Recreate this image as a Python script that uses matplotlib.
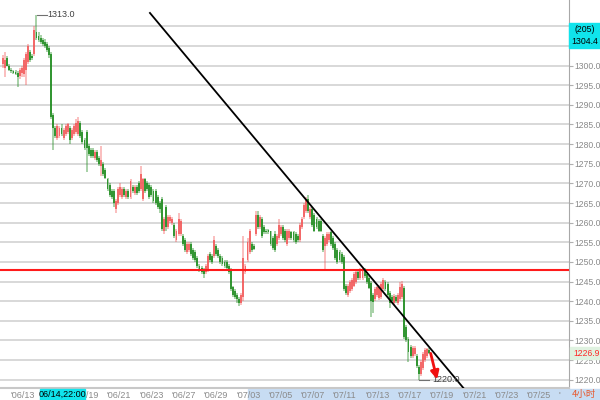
import numpy as np
import matplotlib
matplotlib.use('Agg')
import matplotlib.pyplot as plt
from matplotlib.patches import Rectangle

# 4h candles, oldest first (205 bars)
opens = [
    1300.5, 1299.5, 1302.0, 1300.0, 1299.0, 1298.6, 1298.4, 1298.0, 1297.3, 1298.0,
    1297.8, 1299.0, 1301.0, 1303.5, 1302.5, 1303.0, 1308.5, 1307.5, 1307.0, 1306.5,
    1306.0, 1305.5, 1304.5, 1303.0, 1287.5, 1284.0, 1281.5, 1282.0, 1284.0, 1281.5,
    1282.5, 1283.0, 1284.0, 1281.5, 1282.5, 1283.0, 1282.5, 1285.5, 1283.0, 1281.0,
    1283.0, 1279.5, 1278.5, 1278.5, 1276.5, 1278.0, 1276.5, 1274.5, 1275.0, 1273.5,
    1271.0, 1269.5, 1268.0, 1268.0, 1263.5, 1265.0, 1267.0, 1266.5, 1268.5, 1266.5,
    1268.0, 1266.5, 1269.0, 1267.5, 1269.0, 1270.0, 1268.5, 1266.0, 1271.0, 1270.0,
    1269.5, 1269.0, 1268.0, 1268.0, 1266.5, 1265.0, 1266.0, 1258.0, 1264.0, 1259.0,
    1260.5, 1260.0, 1259.5, 1255.5, 1257.0, 1257.0, 1256.5, 1255.5, 1252.5, 1253.0,
    1254.5, 1253.0, 1252.5, 1251.0, 1249.0, 1248.5, 1248.0, 1247.5, 1248.0, 1252.0,
    1251.5, 1251.5, 1254.0, 1253.0, 1251.5, 1251.0, 1250.0, 1250.0, 1249.0, 1248.0,
    1243.5, 1242.5, 1241.5, 1240.5, 1239.6, 1241.0, 1247.5, 1250.5, 1252.5, 1254.5,
    1254.0, 1257.0, 1262.0, 1259.0, 1261.0, 1259.0, 1258.0, 1258.2, 1257.8, 1256.0,
    1257.0, 1254.5, 1256.0, 1257.0, 1259.0, 1258.0, 1254.5, 1256.0, 1257.5, 1257.5,
    1257.0, 1256.5, 1255.5, 1259.0, 1261.5, 1263.0, 1266.0, 1261.5, 1263.5, 1262.0,
    1261.0, 1260.5, 1260.5, 1256.5, 1254.0, 1254.5, 1255.5, 1257.5, 1256.0, 1254.5,
    1253.0, 1252.5, 1252.0, 1251.3, 1244.0, 1241.5, 1242.5, 1243.0, 1244.0, 1245.0,
    1247.5, 1246.0, 1246.0, 1248.0, 1247.0, 1245.8, 1244.7, 1241.5, 1240.5, 1241.5,
    1240.9, 1241.0, 1243.0, 1245.0, 1244.5, 1242.0, 1241.0, 1239.5, 1241.0, 1239.5,
    1240.5, 1241.0, 1243.4, 1233.5, 1230.5, 1228.4, 1226.0, 1226.5, 1226.0, 1223.3,
    1221.5, 1223.0, 1225.0, 1226.0, 1227.6]
highs = [
    1302.8, 1303.5, 1302.5, 1300.3, 1299.5, 1299.0, 1298.8, 1298.5, 1299.5, 1300.0,
    1302.0, 1303.5, 1305.5, 1304.0, 1303.0, 1310.0, 1313.0, 1308.5, 1307.8, 1307.0,
    1306.8, 1306.0, 1305.0, 1303.5, 1288.0, 1284.5, 1285.0, 1284.5, 1285.0, 1284.0,
    1285.0, 1285.5, 1284.5, 1284.0, 1285.0, 1286.5, 1286.8, 1286.0, 1283.5, 1281.5,
    1283.5, 1280.0, 1279.0, 1279.0, 1278.5, 1278.5, 1277.0, 1279.5, 1275.5, 1274.0,
    1271.5, 1270.0, 1268.5, 1268.5, 1266.0, 1269.0, 1270.0, 1269.0, 1269.0, 1268.5,
    1268.5, 1271.0, 1269.5, 1269.5, 1269.5, 1270.5, 1274.5, 1271.5, 1271.5, 1270.5,
    1270.0, 1269.5, 1268.5, 1268.5, 1267.0, 1265.5, 1266.5, 1261.5, 1264.5, 1262.0,
    1262.0, 1261.5, 1260.0, 1258.5, 1262.5, 1261.0, 1257.0, 1256.0, 1255.0, 1255.0,
    1255.0, 1253.5, 1253.0, 1251.5, 1249.5, 1249.0, 1248.5, 1249.5, 1252.0, 1252.5,
    1252.0, 1256.5, 1254.5, 1253.5, 1252.0, 1251.5, 1250.5, 1250.5, 1249.5, 1248.5,
    1244.0, 1243.0, 1242.0, 1241.0, 1242.0, 1256.5, 1249.5, 1256.0, 1258.5, 1255.0,
    1254.5, 1263.0, 1263.0, 1262.0, 1261.5, 1259.5, 1258.5, 1258.5, 1258.0, 1256.5,
    1258.0, 1257.0, 1261.0, 1259.5, 1259.5, 1258.5, 1258.5, 1258.5, 1258.0, 1258.0,
    1257.5, 1257.0, 1260.0, 1261.5, 1265.0, 1266.5, 1267.0, 1264.0, 1264.0, 1262.5,
    1261.5, 1261.0, 1261.0, 1257.0, 1256.5, 1257.5, 1257.5, 1258.0, 1256.5, 1255.0,
    1253.5, 1253.0, 1252.5, 1251.8, 1244.5, 1244.5, 1245.5, 1246.0, 1247.5, 1248.0,
    1248.0, 1248.5, 1248.5, 1248.5, 1247.5, 1246.3, 1245.2, 1242.0, 1243.5, 1244.0,
    1244.2, 1245.0, 1245.8, 1245.5, 1245.0, 1242.5, 1241.5, 1241.8, 1241.5, 1242.0,
    1245.0, 1245.2, 1243.9, 1234.0, 1231.0, 1228.9, 1228.7, 1228.5, 1226.5, 1223.8,
    1225.0, 1227.0, 1228.2, 1228.0, 1228.0]
lows = [
    1299.5, 1297.0, 1299.8, 1298.5, 1298.0, 1297.8, 1297.5, 1294.5, 1296.5, 1297.0,
    1297.0, 1295.0, 1300.5, 1300.8, 1301.5, 1302.5, 1306.5, 1306.0, 1305.5, 1305.0,
    1304.5, 1303.5, 1302.0, 1286.5, 1278.5, 1281.5, 1281.0, 1281.5, 1282.0, 1281.0,
    1282.0, 1282.5, 1280.0, 1281.0, 1282.0, 1282.5, 1282.0, 1281.5, 1280.0, 1278.5,
    1273.0, 1277.0, 1276.5, 1276.5, 1276.0, 1275.5, 1274.5, 1272.0, 1272.0, 1271.0,
    1268.0, 1266.5, 1266.0, 1264.0, 1262.5, 1264.5, 1266.5, 1266.0, 1266.5, 1266.0,
    1266.0, 1266.0, 1267.5, 1267.0, 1267.0, 1267.5, 1268.0, 1265.5, 1267.5, 1268.0,
    1266.0, 1266.5, 1265.0, 1264.5, 1263.5, 1262.5, 1258.0, 1257.0, 1258.0, 1258.5,
    1260.0, 1259.5, 1256.0, 1255.0, 1256.5, 1256.5, 1254.0, 1252.5, 1252.0, 1252.5,
    1251.5, 1250.5, 1250.0, 1248.5, 1247.5, 1247.0, 1246.0, 1247.0, 1247.5, 1250.0,
    1249.5, 1251.0, 1251.5, 1251.0, 1249.5, 1249.0, 1248.5, 1248.0, 1247.0, 1242.5,
    1241.0, 1240.5, 1239.5, 1238.8, 1239.0, 1240.0, 1247.0, 1250.0, 1252.0, 1252.5,
    1253.0, 1256.5, 1258.5, 1258.5, 1256.0, 1257.0, 1257.0, 1257.0, 1254.0, 1253.0,
    1252.6, 1254.0, 1255.5, 1256.5, 1255.5, 1255.0, 1254.0, 1255.5, 1255.5, 1255.0,
    1254.5, 1255.0, 1255.0, 1258.5, 1261.0, 1262.5, 1262.5, 1261.0, 1259.0, 1257.5,
    1258.5, 1257.5, 1257.5, 1252.5, 1248.0, 1254.0, 1255.0, 1254.0, 1253.0, 1250.5,
    1249.5, 1250.0, 1249.5, 1242.5, 1241.5, 1241.0, 1242.0, 1242.5, 1243.5, 1244.5,
    1245.5, 1245.5, 1245.5, 1246.0, 1244.5, 1243.0, 1236.0, 1237.0, 1240.0, 1241.0,
    1240.4, 1240.5, 1242.5, 1242.5, 1241.0, 1238.3, 1239.5, 1239.0, 1239.5, 1239.0,
    1240.0, 1240.5, 1230.5, 1229.5, 1224.5, 1225.5, 1225.5, 1226.0, 1223.0, 1220.0,
    1221.0, 1222.5, 1224.5, 1225.5, 1226.5]
closes = [
    1302.0, 1301.5, 1300.0, 1299.0, 1298.5, 1298.0, 1297.8, 1297.2, 1299.0, 1299.5,
    1301.5, 1303.0, 1305.0, 1301.5, 1302.0, 1309.0, 1307.0, 1306.5, 1306.0, 1305.5,
    1305.0, 1304.0, 1302.8, 1287.0, 1284.0, 1282.0, 1284.5, 1284.0, 1282.5, 1283.5,
    1284.5, 1285.0, 1281.0, 1283.5, 1284.5, 1285.5, 1286.0, 1282.0, 1280.5, 1279.0,
    1279.0, 1277.5, 1277.0, 1277.0, 1278.0, 1276.0, 1275.0, 1276.0, 1272.5, 1271.5,
    1268.5, 1267.0, 1266.5, 1265.0, 1265.5, 1268.5, 1269.0, 1268.5, 1267.0, 1268.0,
    1266.5, 1270.5, 1268.0, 1269.0, 1267.5, 1268.0, 1272.5, 1271.0, 1268.0, 1268.5,
    1266.5, 1267.0, 1265.5, 1265.0, 1264.0, 1263.5, 1258.5, 1261.0, 1259.0, 1261.5,
    1261.5, 1261.0, 1256.5, 1258.0, 1261.0, 1260.5, 1254.5, 1253.0, 1254.5, 1254.5,
    1252.0, 1251.0, 1250.5, 1249.0, 1248.0, 1247.5, 1247.0, 1249.0, 1251.5, 1250.5,
    1250.0, 1255.5, 1252.0, 1251.5, 1250.0, 1249.5, 1249.0, 1248.5, 1247.5, 1243.0,
    1241.5, 1241.0, 1240.5, 1239.5, 1241.5, 1251.0, 1249.0, 1255.0, 1258.0, 1253.0,
    1253.3, 1262.0, 1259.0, 1261.5, 1256.5, 1257.5, 1257.5, 1257.5, 1254.5, 1253.5,
    1253.0, 1256.5, 1259.5, 1259.0, 1256.0, 1255.5, 1258.0, 1258.0, 1256.0, 1255.5,
    1255.0, 1255.5, 1259.5, 1261.0, 1264.5, 1266.0, 1263.0, 1263.5, 1259.5, 1258.0,
    1259.0, 1258.0, 1257.8, 1253.0, 1256.0, 1257.0, 1257.0, 1254.5, 1253.5, 1251.0,
    1250.0, 1250.5, 1250.0, 1243.0, 1242.0, 1244.0, 1245.0, 1245.5, 1247.0, 1247.5,
    1245.8, 1248.0, 1248.0, 1246.5, 1245.0, 1243.4, 1240.0, 1239.8, 1243.0, 1243.5,
    1243.7, 1244.5, 1245.5, 1243.0, 1241.5, 1239.5, 1240.0, 1241.3, 1240.0, 1241.5,
    1243.5, 1244.5, 1231.0, 1230.0, 1227.0, 1226.0, 1228.2, 1228.0, 1223.5, 1221.5,
    1224.5, 1226.5, 1227.5, 1227.8, 1226.9]

date_labels = ["'06/13", "'06/15", "'06/19", "'06/21", "'06/23", "'06/27", "'06/29",
               "'07/03", "'07/05", "'07/07", "'07/11", "'07/13", "'07/17", "'07/19",
               "'07/21", "'07/23", "'07/25", "'"]
support = 1248.0
trend_x = [70.3, 225.0]
trend_y = [1313.4, 1214.9]
high_mark = (16, 1313.0)
low_mark = (199, 1220.0)
last_price = 1226.9
bar_count = 205
cursor_price = 1304.4
cursor_time = "06/14,22:00"

o = np.array(opens); h = np.array(highs); l = np.array(lows); c = np.array(closes)
idx = np.arange(len(o))
up = c > o

fig = plt.figure(figsize=(6, 4), dpi=100)
fig.patch.set_facecolor('white')
ax = fig.add_axes([0, 12 / 400, 569 / 600, 388 / 400])
font = 'Liberation Sans'
gray = '#8a8a8a'

ax.set_xlim(-1.44, 270.8)
ax.set_ylim(1217.9, 1316.7)
yt = np.arange(1220, 1311, 5)
ax.set_yticks(yt)
ax.set_yticklabels(['%.1f' % v for v in yt], fontsize=6.2, color=gray, family=font)
ax.yaxis.tick_right()
ax.tick_params(axis='y', length=3, color='#b0b0b0', pad=1)
ax.grid(axis='y', color='#d6d6d6', lw=1.3, zorder=0)
ax.set_axisbelow(True)

ticks = 3.35 + 15.45 * np.arange(len(date_labels))
ax.set_xticks(ticks)
ax.set_xticklabels(date_labels, fontsize=6.5, color=gray, family=font, ha='left')
ax.tick_params(axis='x', length=0, pad=2)

for s in ['top', 'left']:
    ax.spines[s].set_visible(False)
ax.spines['right'].set_color('#a8a8a8')
ax.spines['bottom'].set_color('#c8c8c8')
ax.spines['bottom'].set_linewidth(1.5)

# candles (red = up, green = down)
red, green = '#f25a5a', '#1f8c1f'
cols = np.where(up, red, green)
ax.vlines(idx, l, h, colors=cols, lw=1.1, alpha=0.5, zorder=2)
body_lo = np.minimum(o, c)
body_h = np.maximum(np.abs(c - o), 0.3)
ax.bar(idx, body_h, bottom=body_lo, width=0.9, color=cols, alpha=0.85,
       linewidth=0, zorder=3)

ax.axhline(support, color='#ff1a1a', lw=1.5, zorder=4)
ax.plot(trend_x, trend_y, color='black', lw=1.3, zorder=5)

# high / low markers
ax.plot([high_mark[0] + 0.5, high_mark[0] + 5], [high_mark[1]] * 2, color='#707070', lw=0.8)
ax.text(high_mark[0] + 5.3, high_mark[1], '%.1f' % high_mark[1], fontsize=6.5,
        color='#404040', va='center', family=font)
ax.plot([low_mark[0], low_mark[0] + 5], [low_mark[1]] * 2, color='#707070', lw=0.8)
ax.text(low_mark[0] + 6.5, low_mark[1], '%.1f' % low_mark[1], fontsize=6.5,
        color='#404040', va='center', family=font, zorder=5)
ax.annotate('', xy=(208.0, 1219.4), xytext=(204.3, 1227.4),
            arrowprops=dict(arrowstyle='-|>', color='#f01010', lw=2,
                            mutation_scale=12), zorder=6)

# bottom strip and side labels
fig.patches.append(Rectangle((248 / 600, 0), 352 / 600, 11.5 / 400,
                             transform=fig.transFigure, color='#c7dcf3', zorder=-1))
fig.patches.append(Rectangle((40 / 600, 0), 45 / 600, 11.5 / 400,
                             transform=fig.transFigure, color='#10e4ec', zorder=5))
fig.text(62.5 / 600, 5.5 / 400, cursor_time, fontsize=6.5, color='black',
         family=font, ha='center', va='center', zorder=6)
fig.text(572 / 600, 5.5 / 400, '4小时', fontsize=6.8, color='#e8562a',
         family=['Noto Sans CJK SC', 'DejaVu Sans'], va='center', zorder=6)

fig.patches.append(Rectangle((569 / 600, 1 - 48 / 400), 31 / 600, 25 / 400,
                             transform=fig.transFigure, color='#10e4ec', zorder=5))
fig.text(585 / 600, 1 - 30 / 400, '(%d)' % bar_count, fontsize=6.3, color='black',
         family=font, ha='center', va='center', zorder=6)
fig.text(585 / 600, 1 - 42 / 400, '%.1f' % cursor_price, fontsize=6.3, color='black',
         family=font, ha='center', va='center', zorder=6)

fig.patches.append(Rectangle((570 / 600, 1 - 359 / 400), 30 / 600, 12 / 400,
                             transform=fig.transFigure, color='#dff2e0', zorder=5))
fig.text(573 / 600, 1 - 353 / 400, '%.1f' % last_price, fontsize=6.2, color='#ff2a2a',
         family=font, va='center', zorder=6)

fig.savefig('out.png', dpi=100)
